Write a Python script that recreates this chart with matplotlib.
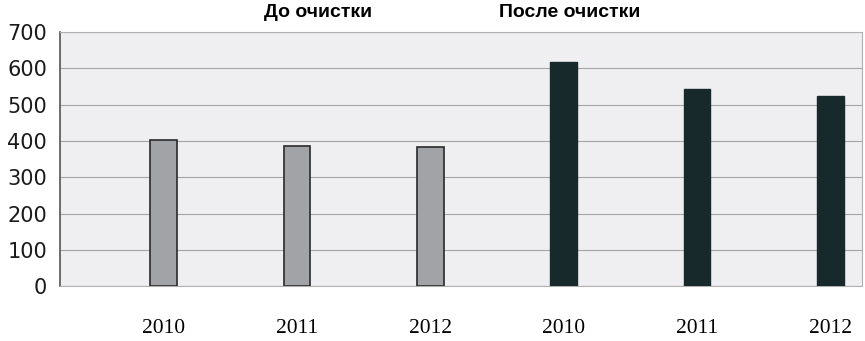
import matplotlib.pyplot as plt

years = ["2010", "2011", "2012", "2010", "2011", "2012"]
before = [402, 386, 383]
after = [617, 543, 523]
groups = ["До очистки", "После очистки"]

fig = plt.figure(figsize=(8.65, 3.41), dpi=100)
ax = fig.add_axes([0.069, 0.161, 0.928, 0.745])
ax.set_facecolor("#efeff1")

pos = list(range(len(years)))
ax.bar(pos[:3], before, width=0.2, color="#a2a3a6", edgecolor="#2a2a2a", linewidth=1.2, zorder=3)
ax.bar(pos[3:], after, width=0.2, color="#17292a", edgecolor="#17292a", linewidth=1.0, zorder=3)

ax.set_ylim(0, 700)
ax.set_xlim(-0.78, 5.24)
ax.set_yticks(range(0, 701, 100))
ax.yaxis.grid(True, color="#a5a5a5", linewidth=0.8, zorder=0)
ax.set_xticks(pos)
ax.set_xticklabels(years, fontfamily="Liberation Serif", fontsize=15.5)
ax.tick_params(axis="x", length=0, pad=24)
ax.tick_params(axis="y", length=0, pad=9, labelsize=15, labelcolor="#1a1a1a")

for s in ["top", "right", "bottom"]:
    ax.spines[s].set_color("#b0b0b0")
ax.spines["left"].set_color("#555555")
ax.spines["left"].set_linewidth(1.2)

fig.text(0.368, 0.963, groups[0], ha="center", va="center", fontsize=14, fontweight="bold",
         family=["Liberation Sans", "DejaVu Sans"])
fig.text(0.659, 0.963, groups[1], ha="center", va="center", fontsize=14, fontweight="bold",
         family=["Liberation Sans", "DejaVu Sans"])

fig.savefig("out.png", dpi=100)
